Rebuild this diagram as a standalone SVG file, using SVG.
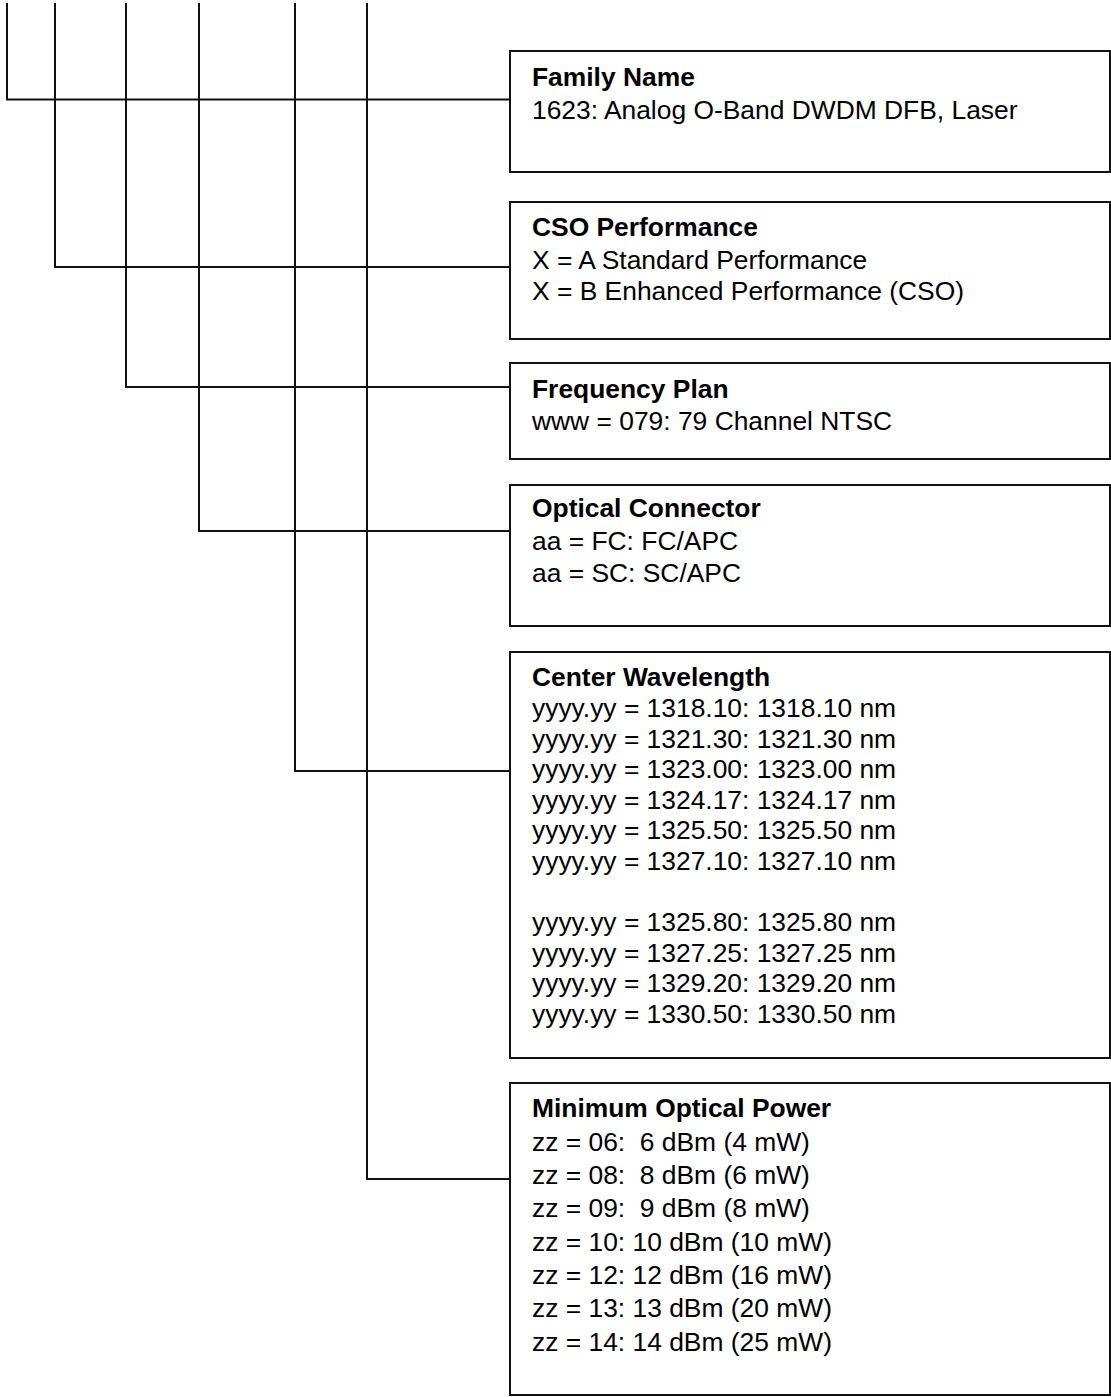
<svg xmlns="http://www.w3.org/2000/svg" width="1111" height="1397" viewBox="0 0 1111 1397">
<style>
  .bg { fill: #ffffff; }
  .box { fill: #ffffff; stroke: #111111; stroke-width: 2; }
  .wire { fill: none; stroke: #111111; stroke-width: 2; }
  text { font-family: "Liberation Sans", Arial, sans-serif; font-size: 26.4px; fill: #000000; white-space: pre; }
  .h { font-weight: bold; }
</style>
<rect class="bg" x="0" y="0" width="1111" height="1397"/>
<g id="connectors">
  <polyline class="wire" points="7,3 7,99.5 510,99.5"/>
  <polyline class="wire" points="55,3 55,267 510,267"/>
  <polyline class="wire" points="126,3 126,387 510,387"/>
  <polyline class="wire" points="199,3 199,531 510,531"/>
  <polyline class="wire" points="295,3 295,771 510,771"/>
  <polyline class="wire" points="367,3 367,1179 510,1179"/>
</g>
<g id="family-name">
  <rect class="box" x="510" y="51" width="600" height="121"/>
  <text class="h" x="532" y="86">Family Name</text>
  <text x="532" y="119">1623: Analog O-Band DWDM DFB, Laser</text>
</g>
<g id="cso-performance">
  <rect class="box" x="510" y="202" width="600" height="137"/>
  <text class="h" x="532" y="236">CSO Performance</text>
  <text x="532" y="269">X = A Standard Performance</text>
  <text x="532" y="300">X = B Enhanced Performance (CSO)</text>
</g>
<g id="frequency-plan">
  <rect class="box" x="510" y="363" width="600" height="96"/>
  <text class="h" x="532" y="398">Frequency Plan</text>
  <text x="532" y="430">www = 079: 79 Channel NTSC</text>
</g>
<g id="optical-connector">
  <rect class="box" x="510" y="485" width="600" height="141"/>
  <text class="h" x="532" y="517">Optical Connector</text>
  <text x="532" y="550">aa = FC: FC/APC</text>
  <text x="532" y="582">aa = SC: SC/APC</text>
</g>
<g id="center-wavelength">
  <rect class="box" x="510" y="652" width="600" height="406"/>
  <text class="h" x="532" y="686">Center Wavelength</text>
  <text x="532" y="717">yyyy.yy = 1318.10: 1318.10 nm</text>
  <text x="532" y="747.6">yyyy.yy = 1321.30: 1321.30 nm</text>
  <text x="532" y="778.2">yyyy.yy = 1323.00: 1323.00 nm</text>
  <text x="532" y="808.8">yyyy.yy = 1324.17: 1324.17 nm</text>
  <text x="532" y="839.4">yyyy.yy = 1325.50: 1325.50 nm</text>
  <text x="532" y="870">yyyy.yy = 1327.10: 1327.10 nm</text>
  <text x="532" y="931.2">yyyy.yy = 1325.80: 1325.80 nm</text>
  <text x="532" y="961.8">yyyy.yy = 1327.25: 1327.25 nm</text>
  <text x="532" y="992.4">yyyy.yy = 1329.20: 1329.20 nm</text>
  <text x="532" y="1023">yyyy.yy = 1330.50: 1330.50 nm</text>
</g>
<g id="minimum-optical-power">
  <rect class="box" x="510" y="1083" width="600" height="312"/>
  <text class="h" x="532" y="1117">Minimum Optical Power</text>
  <text x="532" y="1151">zz = 06:  6 dBm (4 mW)</text>
  <text x="532" y="1184">zz = 08:  8 dBm (6 mW)</text>
  <text x="532" y="1217">zz = 09:  9 dBm (8 mW)</text>
  <text x="532" y="1251">zz = 10: 10 dBm (10 mW)</text>
  <text x="532" y="1284">zz = 12: 12 dBm (16 mW)</text>
  <text x="532" y="1317">zz = 13: 13 dBm (20 mW)</text>
  <text x="532" y="1351">zz = 14: 14 dBm (25 mW)</text>
</g>
</svg>
